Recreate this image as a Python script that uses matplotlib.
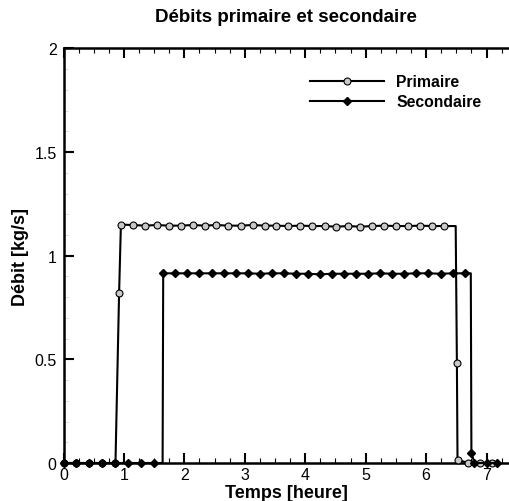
import matplotlib
matplotlib.use("Agg")
import matplotlib.pyplot as plt
from matplotlib.ticker import MultipleLocator, FuncFormatter

plt.rcParams['font.family'] = ['Liberation Sans', 'DejaVu Sans']

# ---- data (time in hours, flow in kg/s) ----
t_prim = [0.0, 0.21, 0.43, 0.64, 0.86, 0.92, 0.95,
          1.15, 1.35, 1.54, 1.74, 1.94, 2.14, 2.34, 2.53, 2.73, 2.93,
          3.13, 3.33, 3.52, 3.72, 3.92, 4.12, 4.32, 4.51, 4.71, 4.91,
          5.11, 5.31, 5.50, 5.70, 5.90, 6.10, 6.30, 6.49,
          6.51, 6.52, 6.70, 6.89, 7.09]
q_prim = [0.0, 0.0, 0.0, 0.0, 0.0, 0.82, 1.15,
          1.148, 1.145, 1.148, 1.145, 1.145, 1.148, 1.145, 1.148, 1.145, 1.145,
          1.148, 1.145, 1.145, 1.143, 1.145, 1.143, 1.143, 1.14, 1.143, 1.14,
          1.143, 1.145, 1.143, 1.143, 1.145, 1.143, 1.143, 1.143,
          0.48, 0.015, 0.0, 0.0, 0.0]
mark_prim = [True] * 34 + [False] + [True] * 5

t_sec = [0.0, 0.21, 0.43, 0.64, 0.86, 1.07, 1.28, 1.49, 1.64,
         1.65, 1.85, 2.05, 2.25, 2.45, 2.65, 2.85, 3.05, 3.25, 3.45,
         3.65, 3.85, 4.05, 4.24, 4.44, 4.64, 4.84, 5.04, 5.24, 5.44,
         5.64, 5.84, 6.04, 6.24, 6.44, 6.64, 6.74,
         6.75, 6.80, 7.00, 7.18]
q_sec = [0.0, 0.0, 0.0, 0.0, 0.0, 0.0, 0.0, 0.0, 0.0,
         0.915, 0.915, 0.915, 0.915, 0.915, 0.915, 0.915, 0.915, 0.913, 0.915,
         0.915, 0.913, 0.913, 0.91, 0.913, 0.913, 0.913, 0.913, 0.915, 0.913,
         0.913, 0.915, 0.915, 0.913, 0.915, 0.915, 0.915,
         0.05, 0.0, 0.0, 0.0]
mark_sec = [True] * 8 + [False] + [True] * 26 + [False] + [True] * 4

labels = ['Primaire', 'Secondaire']
title = 'Débits primaire et secondaire'
xlabel = 'Temps [heure]'
ylabel = 'Débit [kg/s]'

W, H = 509, 502
fig = plt.figure(figsize=(W / 100, H / 100), dpi=100)
x0, x1 = 63.5, 509.0
y_top, y_bot = 49.4, 464.0
ax = fig.add_axes([x0 / W, 1 - y_bot / H, (x1 - x0) / W, (y_bot - y_top) / H])

mk_p = [i for i, m in enumerate(mark_prim) if m]
mk_s = [i for i, m in enumerate(mark_sec) if m]

ax.plot(t_prim, q_prim, color='black', lw=1.5, marker='o', ms=5,
        mfc='#c8c8c8', mec='black', mew=0.8, markevery=mk_p,
        clip_on=False, zorder=3, label=labels[0])
ax.plot(t_sec, q_sec, color='black', lw=1.5, marker='D', ms=4.2,
        mfc='black', mec='black', markevery=mk_s,
        clip_on=False, zorder=4, label=labels[1])

ax.set_xlim(0, (x1 - x0) / 60.43)
ax.set_ylim(0, 2)

ax.spines['right'].set_visible(False)
for s in ['left', 'bottom', 'top']:
    ax.spines[s].set_linewidth(1.8)

ax.xaxis.set_major_locator(MultipleLocator(1))
ax.xaxis.set_minor_locator(MultipleLocator(0.25))
ax.yaxis.set_major_locator(MultipleLocator(0.5))
ax.yaxis.set_minor_locator(MultipleLocator(0.1))
ax.yaxis.set_major_formatter(FuncFormatter(lambda v, p: f'{v:g}'))

ax.tick_params(axis='x', which='major', direction='in', top=True, bottom=True,
               length=7, width=1.5, labelsize=11.5, pad=3)
ax.tick_params(axis='x', which='minor', direction='in', top=True, bottom=True,
               length=3.5, width=0.8)
ax.tick_params(axis='y', which='major', direction='in', left=True, right=False,
               length=7, width=1.5, labelsize=11.5, pad=5)
ax.tick_params(axis='y', which='minor', direction='in', left=True, right=False,
               length=3, width=0.5, color='#cccccc')

ax.set_xlabel(xlabel, fontsize=13, fontweight='bold', labelpad=1)
ax.set_ylabel(ylabel, fontsize=13, fontweight='bold')
ax.yaxis.set_label_coords(-(63.5 - 29) / (x1 - x0), 0.5)

fig.text((x0 + x1) / 2 / W, 1 - 17.5 / H, title, fontsize=13.5, fontweight='bold',
         ha='center', va='center')

leg = ax.legend(loc='upper left',
                bbox_to_anchor=((310 - x0) / (x1 - x0), 1 - (75 - y_top) / (y_bot - y_top)),
                frameon=False, fontsize=11.3, handlelength=4.7, handletextpad=0.8,
                labelspacing=0.32, borderpad=0, borderaxespad=0)
for t in leg.get_texts():
    t.set_fontweight('bold')

fig.savefig('out.png', dpi=100)
